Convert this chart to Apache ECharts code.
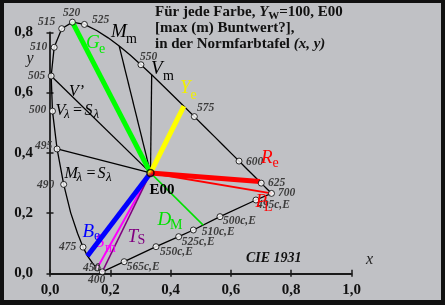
<!DOCTYPE html>
<html><head><meta charset="utf-8">
<script src="https://cdn.jsdelivr.net/npm/echarts@6/dist/echarts.min.js"></script>
<style>html,body{margin:0;padding:0;background:#c0c1c5;}#c{width:445px;height:305px;}</style>
</head><body><div id="c"></div>
<script>
// ---- data ----
const wavelengths = [400,410,420,430,440,450,460,470,475,480,485,490,495,500,505,510,515,520,525,530,535,540,545,550,555,560,565,570,575,580,585,590,595,600,605,610,615,620,625,630,640,650,660,680,700];
const locusX = [0.1733,0.1726,0.1714,0.1689,0.1644,0.1566,0.1440,0.1241,0.1096,0.0913,0.0687,0.0454,0.0235,0.0082,0.0039,0.0139,0.0389,0.0743,0.1142,0.1547,0.1929,0.2296,0.2658,0.3016,0.3373,0.3731,0.4087,0.4441,0.4788,0.5125,0.5448,0.5752,0.6029,0.6270,0.6482,0.6658,0.6801,0.6915,0.7006,0.7079,0.7190,0.7260,0.7300,0.7334,0.7347];
const locusY = [0.0048,0.0048,0.0051,0.0069,0.0109,0.0177,0.0297,0.0578,0.0868,0.1327,0.2007,0.2950,0.4127,0.5384,0.6548,0.7502,0.8120,0.8338,0.8262,0.8059,0.7816,0.7543,0.7243,0.6923,0.6589,0.6245,0.5896,0.5547,0.5202,0.4866,0.4544,0.4242,0.3965,0.3725,0.3514,0.3340,0.3197,0.3083,0.2993,0.2920,0.2809,0.2740,0.2700,0.2666,0.2653];
const markedWl = [400,450,475,490,495,500,505,510,515,520,525,550,575,600,625,700];
const compNames = ['565c,E','550c,E','525c,E','510c,E','500c,E','495c,E'];
const compX = [0.246,0.3516,0.4268,0.4754,0.5638,0.683];
const compY = [0.0385,0.0883,0.1215,0.1437,0.188,0.2433];
const whiteE = [0.3333,0.3333];
const rayNames = ['Vprime','MlSl','V540','Vm','DM','PL','Sm','TS','Ge','Ye','Re','Be'];
const rayEndX = [0.0039,0.0235,0.2296,0.3373,0.508,0.7347,0.1566,0.1733,0.0743,0.4441,0.696,0.1241];
const rayEndY = [0.6548,0.4127,0.7543,0.6589,0.160,0.2653,0.0177,0.0048,0.8338,0.5547,0.305,0.0578];
const xTickLabels = ['0,0','0,2','0,4','0,6','0,8','1,0'];
const yTickLabels = ['0,0','0,2','0,4','0,6','0,8'];

// ---- styles ----
const rayStyle = {
  Vprime:{c:'#000',w:1.3}, MlSl:{c:'#000',w:1.3}, V540:{c:'#000',w:1.3}, Vm:{c:'#000',w:1.3},
  DM:{c:'#00e000',w:1.5}, PL:{c:'#ff0000',w:2}, Sm:{c:'#ff00ff',w:2}, TS:{c:'#800080',w:1.5},
  Ge:{c:'#00ff00',w:5}, Ye:{c:'#ffff00',w:5}, Re:{c:'#ff0000',w:5}, Be:{c:'#0000ff',w:5}
};
const SERIF = '"Liberation Serif", "DejaVu Serif", serif';

function pt(w){ const i = wavelengths.indexOf(w); return [locusX[i], locusY[i]]; }

const series = [];
series.push({type:'line', data: wavelengths.map((w,i)=>[locusX[i],locusY[i]]), symbol:'none', clip:false,
  lineStyle:{color:'#000', width:1.3}, z:3, silent:true});
const purple = [pt(400)].concat(compX.map((x,i)=>[x,compY[i]])).concat([pt(700)]);
series.push({type:'line', data: purple, symbol:'none', clip:false, lineStyle:{color:'#000', width:1.3}, z:3});
rayNames.forEach((n,i)=>{
  const s = rayStyle[n];
  series.push({type:'line', data:[whiteE,[rayEndX[i],rayEndY[i]]], symbol:'none', clip:false,
    lineStyle:{color:s.c, width:s.w}, z:4});
});
series.push({type:'scatter', clip:false, z:10,
  data: markedWl.map(pt).concat(compX.map((x,i)=>[x,compY[i]])),
  symbol:'circle', symbolSize:6, itemStyle:{color:'#fff', borderColor:'#000', borderWidth:1}});
series.push({type:'scatter', clip:false, z:11, data:[whiteE], symbol:'circle', symbolSize:7,
  itemStyle:{color:{type:'linear',x:0,y:0,x2:1,y2:1,colorStops:[{offset:0,color:'#00ff00'},{offset:0.35,color:'#ffff00'},{offset:0.65,color:'#ff0000'},{offset:1,color:'#0000ff'}]}, borderColor:'#000', borderWidth:1.5}});

// ---- annotation texts (pixel layout) ----
const G = [];
function T(x,y,text,font,fill,z){
  G.push({type:'text', x:x, y:y, z:(z===undefined?100:z), silent:true,
    style:{text:text, font:font, fill:fill, textAlign:'left', align:'left', textVerticalAlign:'middle', verticalAlign:'middle'}});
}
const wlFont = 'italic bold 11.5px ' + SERIF, wlCol = '#3c3c3c';
[['515',38,21.7],['520',63,12.7],['525',92,20],['510',30,46.7],['505',28,76],['500',29,110.5],
 ['495',35,145.7],['490',37,185],['475',59,246.7],['450',83,268],['400',88,280.5],['550',140,56.7],
 ['575',197,108.3],['600',246,161.7],['625',268,182.7],['700',278,192.7],
 ['495c,E',257,205],['500c,E',223,220.7],['510c,E',201.7,231.7],['525c,E',181.7,241.7],
 ['550c,E',160,251.7],['565c,E',126.7,266.7]].forEach(a=>T(a[1],a[2],a[0],wlFont,wlCol));
const big = 'italic 19px ' + SERIF, sub = '14px ' + SERIF, mid = 'italic 16px ' + SERIF, subl = 'italic 13px ' + SERIF;
T(86,43,'G',big,'#00f000'); T(99,49,'e',sub,'#00f000');
T(111,32,'M',big,'#000'); T(126,39,'m',sub,'#000');
T(151,69,'V',big,'#000'); T(163,76,'m',sub,'#000');
T(180,88,'Y',big,'#f0f000'); T(190.5,95,'e',sub,'#f0f000');
T(69,91.7,"V\u2019",mid,'#000');
T(55.5,111,'V',mid,'#000'); T(64,115,'\u03bb',subl,'#000'); T(72,111,'=',mid,'#000'); T(84.5,111,'S',mid,'#000'); T(93.5,115,'\u03bb',subl,'#000');
T(64.5,173.5,'M',mid,'#000'); T(76.5,177.5,'\u03bb',subl,'#000'); T(85.5,173.5,'=',mid,'#000'); T(97.5,173.5,'S',mid,'#000'); T(106,177.5,'\u03bb',subl,'#000');
T(261,158.3,'R',big,'#ff0000'); T(272.5,163.3,'e',sub,'#ff0000');
T(255.5,201.7,'P',big,'#ff0000'); T(264,207,'L',sub,'#ff0000');
T(149.5,190,'E00','bold 15px '+SERIF,'#000');
T(157.5,220,'D',big,'#00e000'); T(170,225,'M',sub,'#00e000');
T(127.5,236.7,'T',big,'#800080'); T(137.5,240.7,'S',sub,'#800080');
T(82.5,231.7,'B',big,'#0000ff'); T(94,236,'e',sub,'#0000ff');
T(95,242,'S',big,'#ff00ff',0); T(105,248.3,'m',sub,'#ff00ff');
T(26.5,58.3,'y','italic 16px '+SERIF,'#222');
T(366,259.3,'x','italic 16px '+SERIF,'#222');
T(246,258.3,'CIE 1931','italic bold 14px '+SERIF,'#111');

function rich(x,y,text,richObj){
  G.push({type:'text', x:x, y:y, z:100, silent:true,
    style:{text:text, rich:richObj, font:'bold 15px '+SERIF, fill:'#111', textAlign:'left', align:'left', textVerticalAlign:'middle', verticalAlign:'middle'}});
}
const R = {
  a:{fontFamily:SERIF, fontSize:15, fontWeight:'bold', fill:'#111', color:'#111', lineHeight:18},
  i:{fontFamily:SERIF, fontSize:15, fontWeight:'bold', fontStyle:'italic', fill:'#111', color:'#111', lineHeight:18},
  s:{fontFamily:SERIF, fontSize:11, fontWeight:'bold', fill:'#111', color:'#111', lineHeight:18, padding:[8,0,0,0]}
};
rich(155,12,'{a|F\u00fcr jede Farbe, }{i|Y}{s|W}{a|=100, E00}',R);
rich(155,28.5,'{a|[max (m) Buntwert?],}',R);
rich(155,44,'{a|in der Normfarbtafel }{i|(x, y)}',R);

// frame
G.push({type:'rect', z:200, silent:true, shape:{x:0,y:0,width:4,height:305}, style:{fill:'#111'}});
G.push({type:'rect', z:200, silent:true, shape:{x:0,y:0,width:445,height:3}, style:{fill:'#111'}});
G.push({type:'rect', z:200, silent:true, shape:{x:0,y:300,width:445,height:5}, style:{fill:'#111'}});
G.push({type:'rect', z:200, silent:true, shape:{x:441,y:0,width:4,height:305}, style:{fill:'#111'}});

const axLbl = {fontFamily:SERIF, fontWeight:'bold', fontSize:15, color:'#111'};
const chart = echarts.init(document.getElementById('c'), null, {renderer:'canvas'});
chart.setOption({
  animation:false,
  backgroundColor:'#c0c1c5',
  grid:{left:50, right:93.5, top:32.3, bottom:31.7, containLabel:false},
  xAxis:[
    {type:'value', min:0, max:1, interval:0.2, position:'bottom',
     axisLine:{show:true, lineStyle:{color:'#1a1a1a', width:2}},
     axisTick:{show:true, inside:false, length:3.5, lineStyle:{color:'#1a1a1a', width:1.5}},
     axisLabel:Object.assign({margin:9, formatter:(v)=>xTickLabels[Math.round(v/0.2)]}, axLbl),
     splitLine:{show:false}},
    {type:'value', min:0, max:1, interval:0.2, position:'bottom',
     axisLine:{show:false}, axisTick:{show:true, inside:true, length:3.5, lineStyle:{color:'#1a1a1a', width:1.5}},
     axisLabel:{show:false}, splitLine:{show:false}}
  ],
  yAxis:[
    {type:'value', min:0, max:0.8, interval:0.2, position:'left',
     axisLine:{show:true, lineStyle:{color:'#1a1a1a', width:1.8}},
     axisTick:{show:true, inside:false, length:3.5, lineStyle:{color:'#1a1a1a', width:1.5}},
     axisLabel:Object.assign({margin:17, formatter:(v)=>yTickLabels[Math.round(v/0.2)]}, axLbl),
     splitLine:{show:false}},
    {type:'value', min:0, max:0.8, interval:0.2, position:'left',
     axisLine:{show:false}, axisTick:{show:true, inside:true, length:3.5, lineStyle:{color:'#1a1a1a', width:1.5}},
     axisLabel:{show:false}, splitLine:{show:false}}
  ],
  series: series,
  graphic: G
});
</script></body></html>
